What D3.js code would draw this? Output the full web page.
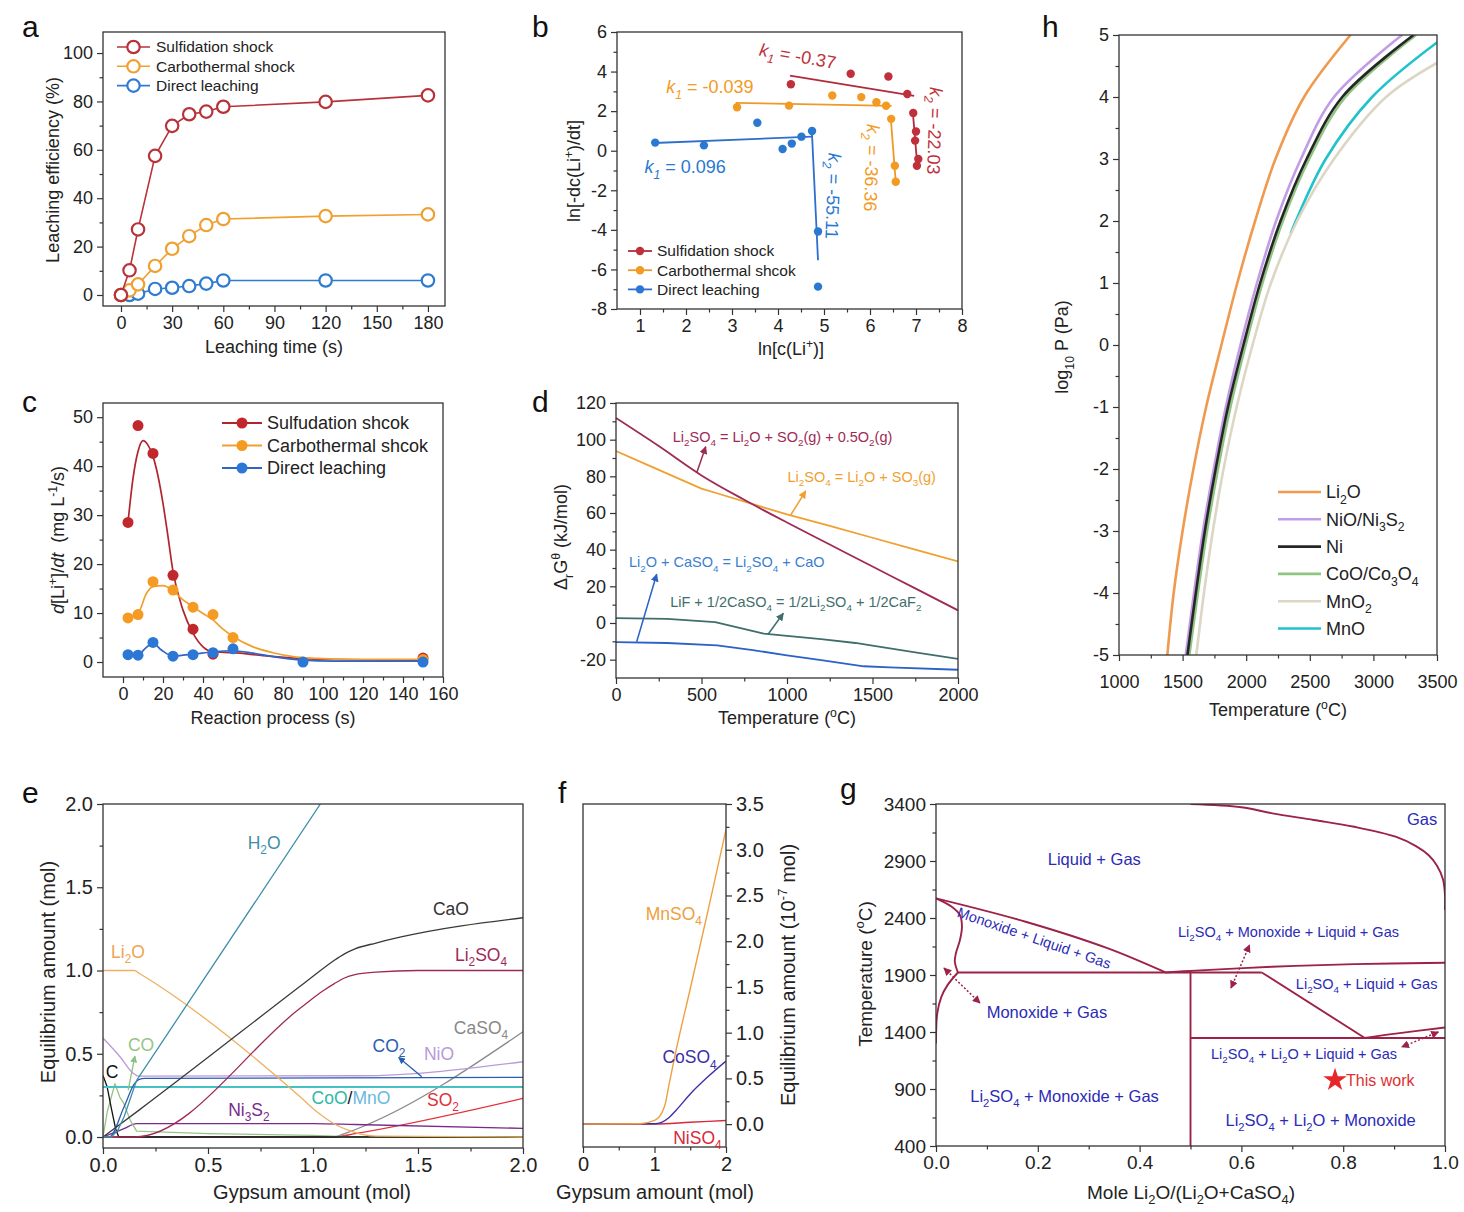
<!DOCTYPE html>
<html><head><meta charset="utf-8">
<script src="https://cdn.jsdelivr.net/npm/d3@7"></script>
<style>body{margin:0;background:#fff}svg{display:block}text{white-space:pre}</style>
</head><body>
<svg id="c" width="1464" height="1212"></svg>
<script>
// ---------------- DATA ----------------
// Panel a
const aTime = [0,5,10,20,30,40,50,60,120,180];
const aSulf = [0,10.2,27.1,57.5,69.9,74.7,75.8,77.8,79.8,82.5];
const aCarb = [0,1.9,4.4,12.0,19.1,24.3,28.9,31.4,32.6,33.3];
const aDirect = [0,0,0.55,2.5,3.0,3.7,4.7,6.0,6.0,6.0];
const aSeriesNames = ["Sulfidation shock","Carbothermal shock","Direct leaching"];

// Panel b
const bSulfX = [4.28,5.58,6.40,6.81,6.94,7.00,6.98,7.05,7.02];
const bSulfY = [3.36,3.89,3.75,2.87,1.91,0.97,0.51,-0.42,-0.76];
const bSulfFit1 = [[4.26,3.80],[6.96,2.77]];
const bSulfFit2 = [[6.93,1.98],[7.03,-0.80]];
const bCarbX = [3.11,4.24,5.18,5.81,6.14,6.35,6.46,6.54,6.56];
const bCarbY = [2.20,2.28,2.79,2.71,2.45,2.27,1.61,-0.76,-1.57];
const bCarbFit1 = [[3.08,2.42],[6.47,2.27]];
const bCarbFit2 = [[6.45,1.70],[6.56,-1.60]];
const bDirX = [1.33,2.39,3.55,4.10,4.30,4.51,4.74,4.87,4.87];
const bDirY = [0.41,0.27,1.41,0.09,0.36,0.71,1.00,-4.08,-6.87];
const bDirFit1 = [[1.31,0.39],[4.74,0.71]];
const bDirFit2 = [[4.74,0.80],[4.87,-5.54]];
const bSeriesNames = ["Sulfidation shock","Carbothermal shcok","Direct leaching"];

// Panel c
const cX = [2.5,7.5,15,25,35,45,55,90,150];
const cSulf = [28.5,48.3,42.6,17.7,6.7,1.6,null,null,0.8];
const cCarb = [9.0,9.7,16.4,14.7,11.2,9.7,5.0,null,0.5];
const cDirect = [1.5,1.4,4.0,1.2,1.5,1.9,2.7,0.0,0.0];
const cSulfFitX = [2.5,5,7.5,10,12.5,15,17.5,20,22.5,25,30,35,40,45,55,70,90,120,150];
const cSulfFitY = [28.5,37.5,43,45.2,44.3,42,38,32.4,25.6,18.5,10.6,5.9,3.1,2.1,1.9,1.3,0.7,0.45,0.4];
const cCarbFitX = [2.5,7.5,11.7,15,20,25,30,35,40,45,50,55,65,75,85,97,115,150];
const cCarbFitY = [9.0,9.9,14.0,15.4,15.6,14.6,12.7,11.3,9.9,8.6,6.7,5.2,3.1,1.9,1.1,0.75,0.55,0.55];
const cDirFitX = [2.5,7.5,10.9,15,19.2,25,30,35,45,55,65,75,90,105,150];
const cDirFitY = [1.5,1.4,2.7,3.8,2.45,1.2,1.4,1.6,2.1,2.3,1.8,1.1,0.4,0.2,0.2];
const cSeriesNames = ["Sulfudation shcok","Carbothermal shcok","Direct leaching"];

// Panel d
const dR1T = [0,250,500,750,1000,1250,1500,1750,2000];
const dR1V = [111.8,96.5,80.5,67.2,54.8,42.8,30.8,18.9,6.9];
const dR2T = [0,250,500,600,800,1000,1250,1500,1750,2000];
const dR2V = [93.8,83.5,73.3,70.5,64.8,59.2,53.0,46.5,40.0,33.6];
const dR3T = [0,300,591,800,1000,1200,1449,1600,2000];
const dR3V = [-10.4,-10.9,-12.2,-14.8,-17.6,-20.3,-23.6,-24.2,-25.5];
const dR4T = [0,300,580,864,1000,1200,1400,1500,1750,2000];
const dR4V = [2.7,2.2,0.5,-5.8,-7.0,-8.8,-10.9,-12.4,-16.0,-19.6];
const dLabels = ["Li{_2}SO{_4} = Li{_2}O + SO{_2}(g) + 0.5O{_2}(g)","Li{_2}SO{_4} = Li{_2}O + SO{_3}(g)","Li{_2}O + CaSO{_4} = Li{_2}SO{_4} + CaO","LiF + 1/2CaSO{_4} = 1/2Li{_2}SO{_4} + 1/2CaF{_2}"];

// Panel e
const eH2OX = [0,0.04,0.07,0.1,0.13,0.16,1.035];
const eH2OY = [0,0,0.04,0.12,0.23,0.34,2.0];
const eLi2OX = [0,0.15,0.17,0.94,1.02,1.1,1.18,1.3,2.0];
const eLi2OY = [1,1,0.985,0.24,0.15,0.08,0.035,0.005,0];
const eCaOX = [0,0.17,0.94,1.0,1.1,1.15,1.2,1.3,1.414,2.0];
const eCaOY = [0,0.16,0.907,0.965,1.06,1.1,1.13,1.165,1.2,1.317];
const eLi2SO4X = [0,0.15,0.94,1.05,1.1,1.15,1.2,1.3,1.5,2.0];
const eLi2SO4Y = [0,0,0.775,0.88,0.92,0.955,0.975,0.99,1.0,1.0];
const eCaSO4X = [0,1.1,1.15,1.25,2.0];
const eCaSO4Y = [0,0,0.02,0.07,0.632];
const eCO2X = [0,0.03,0.1,0.15,0.17,0.2,2.0];
const eCO2Y = [0,0,0.18,0.32,0.345,0.352,0.358];
const eNiOX = [0,0.081,0.144,0.17,1.22,2.0];
const eNiOY = [0.595,0.482,0.383,0.366,0.368,0.452];
const eCoOX = [0,2.0], eCoOY = [0.302,0.302];
const eMnOX = [0,2.0], eMnOY = [0.298,0.298];
const eCX = [0,0.02,0.04,0.06,0.075,2.0];
const eCY = [0.37,0.3,0.17,0.05,0,0];
const eCOX = [0,0.02,0.057,0.08,0.1,0.13,0.16,0.5,1.0,1.2,2.0];
const eCOY = [0,0.15,0.32,0.24,0.2,0.1,0.035,0.02,0.01,0.0,0.0];
const eSO2X = [0,1.1,1.2,2.0], eSO2Y = [0,0,0.02,0.232];
const eNi3S2X = [0,0.1,0.16,1.0,1.2,2.0], eNi3S2Y = [0,0.05,0.08,0.08,0.075,0.052];
const eOtherX = [0,2.0], eOtherY = [0.002,0.002];

// Panel f
const fMnX = [0,0.8,1.0,1.1,1.15,1.2,1.3,1.5,1.75,2.0];
const fMnY = [0,0.005,0.04,0.12,0.22,0.42,0.8,1.48,2.34,3.22];
const fCoX = [0,1.0,1.1,1.2,1.3,1.5,1.75,2.0];
const fCoY = [0,0.005,0.02,0.07,0.15,0.33,0.52,0.69];
const fNiX = [0,1.0,1.5,2.0], fNiY = [0,0.0,0.02,0.04];

// Panel g (phase boundaries)
const gGasX = [0.5,0.6,0.661,0.742,0.822,0.903,0.943,0.968,0.984,0.996,1.0,1.0];
const gGasY = [3400,3372,3318,3260,3200,3113,3030,2950,2860,2740,2600,2470];
const gUpLeftX = [0,0.176,0.338,0.451], gUpLeftY = [2572,2367,2133,1922];
const gInnerX = [0,0.031,0.047,0.051,0.047,0.039,0.037,0.043];
const gInnerY = [2572,2499,2425,2323,2206,2089,2016,1922];
const gLowLeftX = [0,0.0024,0.0105,0.0226,0.043], gLowLeftY = [1300,1562,1708,1811,1922];
const gEutX = [0.043,0.64], gEutY = [1922,1922];
const gUpRightX = [0.451,0.5,0.66,0.822,1.0], gUpRightY = [1922,1936,1972,1995,2007];
const gVertX = [0.5,0.5], gVertY = [400,1936];
const gDiagX = [0.64,0.8425], gDiagY = [1922,1348];
const gHorX = [0.5,1.0], gHorY = [1348,1348];
const gRightX = [0.8425,0.903,1.0], gRightY = [1348,1386,1439];
const gStar = [0.784,979];

// Panel h
const hLogP = [-5,-4,-3,-2,-1,0,1,2,3,4,5];
const hLi2O = [1380,1430,1500,1585,1685,1805,1930,2070,2230,2455,2820];
const hNiO  = [1525,1590,1660,1745,1840,1955,2085,2235,2430,2690,3225];
const hNi   = [1538,1604,1675,1760,1857,1978,2110,2270,2475,2755,3316];
const hCoO  = [1553,1620,1692,1778,1876,1996,2128,2288,2495,2780,3335];
const hMnO2P = [-5,-4,-3,-2,-1,0,1,2,3,4,4.55];
const hMnO2T = [1608,1668,1738,1822,1925,2050,2195,2400,2690,3100,3500];
const hMnOP = [1.8,2,3,4,4.88];
const hMnOT = [2350,2390,2625,2990,3500];
const hNames = ["Li{_2}O","NiO/Ni{_3}S{_2}","Ni","CoO/Co{_3}O{_4}","MnO{_2}","MnO"];

// ---------------- DRAWING ----------------
const svg = d3.select('#c');
const FONT = "Arial, 'Liberation Sans', Helvetica, sans-serif";
svg.attr('font-family', FONT);
const defs = svg.append('defs');
let clipN = 0;

function rich(t, str, fs){
  const re=/\{([_^*~])([^}]*)\}/g; let last=0,m,cur=0; const parts=[];
  while((m=re.exec(str))!==null){ if(m.index>last) parts.push(['n',str.slice(last,m.index)]); parts.push([m[1],m[2]]); last=re.lastIndex; }
  if(last<str.length) parts.push(['n',str.slice(last)]);
  for(const [k,s] of parts){
    let off=0,size=fs,it=false;
    if(k==='_'||k==='~'){off=fs*0.3;size=fs*0.68;}
    if(k==='^'){off=-fs*0.4;size=fs*0.68;}
    if(k==='*'||k==='~') it=true;
    const ts=t.append('tspan').attr('font-size',size).attr('dy',off-cur).text(s);
    if(it) ts.attr('font-style','italic');
    cur=off;
  }
}
function label(x,y,str,fs,o={}){
  const t=svg.append('text').attr('x',0).attr('y',fs*0.35).attr('font-size',fs)
    .attr('fill',o.fill||'#222').attr('text-anchor',o.anchor||'middle')
    .attr('transform',`translate(${x},${y}) rotate(${o.rotate||0})`);
  rich(t,str,fs);
  return t;
}
function marker(id,color,size){
  defs.append('marker').attr('id',id).attr('viewBox','0 0 10 10').attr('refX',9).attr('refY',5)
    .attr('markerWidth',size).attr('markerHeight',size).attr('markerUnits','userSpaceOnUse')
    .attr('orient','auto-start-reverse')
    .append('path').attr('d','M0,0 L10,5 L0,10 Z').attr('fill',color);
}
function panel(c){
  const x=d3.scaleLinear().domain(c.xd).range([c.x0,c.x1]);
  const y=d3.scaleLinear().domain(c.yd).range([c.y1,c.y0]);
  const id='clip'+(clipN++);
  defs.append('clipPath').attr('id',id).append('rect').attr('x',c.x0).attr('y',c.y0).attr('width',c.x1-c.x0).attr('height',c.y1-c.y0);
  const fs=c.fs||18;
  const style=g=>{g.attr('font-family',FONT).attr('font-size',fs);g.select('.domain').remove();
    g.selectAll('line').attr('stroke','#333').attr('stroke-width',1.2);
    g.selectAll('text').attr('font-size',fs).attr('fill','#222');};
  const xf=c.xf||(d=>String(d)), yf=c.yf||(d=>String(d));
  svg.append('g').attr('transform',`translate(0,${c.y1})`).call(d3.axisBottom(x).tickValues(c.xt).tickSize(6).tickPadding(c.xpad||4).tickFormat(xf)).call(style);
  svg.append('g').attr('transform',`translate(0,${c.y1})`).call(d3.axisBottom(x).tickValues(c.xm).tickSize(3.5).tickFormat('')).call(style);
  const yx=c.right?c.x1:c.x0;
  const mk=()=>c.right?d3.axisRight(y):d3.axisLeft(y);
  svg.append('g').attr('transform',`translate(${yx},0)`).call(mk().tickValues(c.yt).tickSize(6).tickPadding(4).tickFormat(yf)).call(style);
  svg.append('g').attr('transform',`translate(${yx},0)`).call(mk().tickValues(c.ym).tickSize(3.5).tickFormat('')).call(style);
  const g=svg.append('g').attr('clip-path',`url(#${id})`);
  const top=svg.append('g');
  svg.append('rect').attr('x',c.x0).attr('y',c.y0).attr('width',c.x1-c.x0).attr('height',c.y1-c.y0)
    .attr('fill','none').attr('stroke','#333').attr('stroke-width',1.3);
  return {x,y,g,top};
}
const zipXY=(xs,ys)=>xs.map((v,i)=>[v,ys[i]]).filter(d=>d[1]!==null);
function path(P,pts,color,w,curve,layer){
  return (layer||P.g).append('path').datum(pts).attr('fill','none').attr('stroke',color).attr('stroke-width',w)
    .attr('stroke-linejoin','round')
    .attr('d',d3.line().x(d=>P.x(d[0])).y(d=>P.y(d[1])).curve(curve||d3.curveLinear));
}
function arrow(P,from,to,color,id,w,dash,both){
  const l=P.top.append('line').attr('x1',P.x(from[0])).attr('y1',P.y(from[1])).attr('x2',P.x(to[0])).attr('y2',P.y(to[1]))
    .attr('stroke',color).attr('stroke-width',w).attr('marker-end',`url(#${id})`);
  if(dash) l.attr('stroke-dasharray',dash);
  if(both) l.attr('marker-start',`url(#${id})`);
}
// panel letters
[['a',22,37],['b',532,37],['c',22,412],['d',532,412],['h',1042,37],['e',22,803],['f',558,803],['g',840,799]]
  .forEach(([s,x,y])=>svg.append('text').attr('x',x).attr('y',y).attr('font-size',30).attr('fill','#111').text(s));

// ===== Panel a =====
{
  const A=panel({x0:103,x1:445,y0:32,y1:306,xd:[-10.55,190],yd:[-4.55,108.7],
    xt:[0,30,60,90,120,150,180],xm:[15,45,75,105,135,165],yt:[0,20,40,60,80,100],ym:[10,30,50,70,90],fs:18});
  const cols=['#b8323a','#f0a030','#2e7bd0'];
  const ser=[aSulf,aCarb,aDirect];
  [2,1,0].forEach(i=>{
    const pts=zipXY(aTime,ser[i]);
    path(A,pts,cols[i],1.6);
    A.g.selectAll(null).data(pts).enter().append('circle').attr('cx',d=>A.x(d[0])).attr('cy',d=>A.y(d[1]))
      .attr('r',6.2).attr('fill','#fff').attr('stroke',cols[i]).attr('stroke-width',2.2);
  });
  aSeriesNames.forEach((n,i)=>{
    const yy=47+i*19.3;
    svg.append('line').attr('x1',117).attr('x2',150).attr('y1',yy).attr('y2',yy).attr('stroke',cols[i]).attr('stroke-width',1.6);
    svg.append('circle').attr('cx',133.5).attr('cy',yy).attr('r',6.2).attr('fill','#fff').attr('stroke',cols[i]).attr('stroke-width',2.2);
    label(156,yy,n,15.5,{anchor:'start'});
  });
  label(274,347,'Leaching time (s)',18);
  label(53,170,'Leaching efficiency (%)',18,{rotate:-90});
}

// ===== Panel b =====
{
  const B=panel({x0:617,x1:962,y0:32,y1:309,xd:[0.5,8],yd:[-8,6],
    xt:[1,2,3,4,5,6,7,8],xm:[1.5,2.5,3.5,4.5,5.5,6.5,7.5],yt:[-8,-6,-4,-2,0,2,4,6],ym:[-7,-5,-3,-1,1,3,5],fs:18});
  const cols=['#c0303a','#f39a22','#2a78d0'];
  const lcols=['#b02c3c','#ee9a2a','#2f6fcc'];
  const sets=[[bSulfX,bSulfY,bSulfFit1,bSulfFit2],[bCarbX,bCarbY,bCarbFit1,bCarbFit2],[bDirX,bDirY,bDirFit1,bDirFit2]];
  sets.forEach((s,i)=>{
    path(B,s[2],lcols[i],1.8); path(B,s[3],lcols[i],1.8);
    B.g.selectAll(null).data(zipXY(s[0],s[1])).enter().append('circle').attr('cx',d=>B.x(d[0])).attr('cy',d=>B.y(d[1]))
      .attr('r',4.2).attr('fill',cols[i]);
  });
  bSeriesNames.forEach((n,i)=>{
    const yy=251+i*19.2;
    svg.append('line').attr('x1',628).attr('x2',652).attr('y1',yy).attr('y2',yy).attr('stroke',lcols[i]).attr('stroke-width',1.8);
    svg.append('circle').attr('cx',640).attr('cy',yy).attr('r',4.2).attr('fill',cols[i]);
    label(657,yy,n,15.5,{anchor:'start'});
  });
  const kl=[[4.43,4.79,'{*k}{~1} = -0.37',cols[0],10],[2.52,3.22,'{*k}{~1} = -0.039',cols[1],0],[1.98,-0.82,'{*k}{~1} = 0.096',cols[2],0],
            [7.41,1.0,'{*k}{~2} = -22.03',cols[0],92],[6.04,-0.87,'{*k}{~2} = -36.36',cols[1],92],[5.2,-2.29,'{*k}{~2} = -55.11',cols[2],92]];
  kl.forEach(k=>label(B.x(k[0]),B.y(k[1]),k[2],18,{fill:k[3],rotate:k[4]}));
  label(791,349,'ln[c(Li{^+})]',18);
  label(574,171,'ln[-dc(Li{^+})/dt]',18,{rotate:-90});
}

// ===== Panel c =====
{
  const C=panel({x0:103,x1:443,y0:403,y1:677,xd:[-10,160],yd:[-3.06,52.9],
    xt:[0,20,40,60,80,100,120,140,160],xm:[10,30,50,70,90,110,130,150],yt:[0,10,20,30,40,50],ym:[5,15,25,35,45],fs:18});
  const cols=['#c0282e','#f59a23','#2c77d6'];
  const lcols=['#b0262e','#f0a030','#3264c4'];
  const fits=[[cSulfFitX,cSulfFitY],[cCarbFitX,cCarbFitY],[cDirFitX,cDirFitY]];
  const pts=[cSulf,cCarb,cDirect];
  [0,1,2].forEach(i=>{
    path(C,zipXY(fits[i][0],fits[i][1]),lcols[i],1.7,d3.curveMonotoneX);
    C.g.selectAll(null).data(zipXY(cX,pts[i])).enter().append('circle').attr('cx',d=>C.x(d[0])).attr('cy',d=>C.y(d[1]))
      .attr('r',5.5).attr('fill',cols[i]);
  });
  cSeriesNames.forEach((n,i)=>{
    const yy=423+i*22.5;
    svg.append('line').attr('x1',222).attr('x2',262).attr('y1',yy).attr('y2',yy).attr('stroke',lcols[i]).attr('stroke-width',1.8);
    svg.append('circle').attr('cx',242).attr('cy',yy).attr('r',5.5).attr('fill',cols[i]);
    label(267,yy,n,18,{anchor:'start'});
  });
  label(273,718,'Reaction process (s)',18);
  label(58,540,'{*d}[Li{^+}]/{*dt}  (mg L{^-1}/s)',18,{rotate:-90});
}

// ===== Panel d =====
{
  const D=panel({x0:616,x1:958,y0:403,y1:678,xd:[0,2000],yd:[-30,120],
    xt:[0,500,1000,1500,2000],xm:[250,750,1250,1750],yt:[-20,0,20,40,60,80,100,120],ym:[-10,10,30,50,70,90,110],fs:18});
  const cols=['#9e2a55','#f0a030','#2a62c8','#3f6e6c'];
  path(D,zipXY(dR2T,dR2V),cols[1],1.8);
  path(D,zipXY(dR1T,dR1V),cols[0],1.8,d3.curveMonotoneX);
  path(D,zipXY(dR4T,dR4V),cols[3],1.8);
  path(D,zipXY(dR3T,dR3V),cols[2],1.8);
  cols.forEach((c,i)=>marker('ad'+i,c,8));
  arrow(D,[472,82.0],[524.6,96.2],cols[0],'ad0',1.5);
  arrow(D,[1021.7,58.9],[1109.4,72.0],cols[1],'ad1',1.5);
  arrow(D,[121,-10.2],[238,26.6],cols[2],'ad2',1.5);
  arrow(D,[890.7,-6.0],[978.4,5.3],cols[3],'ad3',1.5);
  const pos=[[973.7,101.6],[1436.8,79.8],[647.4,33.1],[1051.5,11.6]];
  const lc=[cols[0],cols[1],'#3a7fcf',cols[3]];
  dLabels.forEach((s,i)=>label(D.x(pos[i][0]),D.y(pos[i][1]),s,14.5,{fill:lc[i]}));
  label(787,718,'Temperature ({^o}C)',18);
  label(561,537,'Δ{_r}G{^θ} (kJ/mol)',18,{rotate:-90});
}

// ===== Panel h =====
{
  const H=panel({x0:1119,x1:1437,y0:35,y1:655,xd:[1000,3500],yd:[-5,5],
    xt:[1000,1500,2000,2500,3000,3500],xm:[1250,1750,2250,2750,3250],yt:[-5,-4,-3,-2,-1,0,1,2,3,4,5],
    ym:[-4.5,-3.5,-2.5,-1.5,-0.5,0.5,1.5,2.5,3.5,4.5],fs:18,xpad:14});
  const cols=['#ef9a4e','#c29ce6','#262626','#8fc483','#dcd6c4','#22c2cb'];
  const tp=(T,P)=>T.map((t,i)=>[t,P[i]]);
  const cr=d3.curveCatmullRom.alpha(0.5);
  path(H,tp(hLi2O,hLogP),cols[0],2.6,cr);
  path(H,tp(hMnOT,hMnOP),cols[5],2.6,cr);
  path(H,tp(hMnO2T,hMnO2P),cols[4],2.6,cr);
  path(H,tp(hCoO,hLogP),cols[3],2.6,cr);
  path(H,tp(hNiO,hLogP),cols[1],2.6,cr);
  path(H,tp(hNi,hLogP),cols[2],2.6,cr);
  hNames.forEach((n,i)=>{
    const yy=492+i*27.3;
    svg.append('line').attr('x1',1278).attr('x2',1321).attr('y1',yy).attr('y2',yy).attr('stroke',cols[i]).attr('stroke-width',2.6);
    label(1326,yy,n,18,{anchor:'start'});
  });
  label(1278,710,'Temperature ({^o}C)',18);
  label(1062,347,'log{_10} P (Pa)',18,{rotate:-90});
}

// ===== Panel e =====
{
  const E=panel({x0:103,x1:523,y0:804,y1:1148,xd:[0,2],yd:[-0.066,2],
    xt:[0,0.5,1,1.5,2],xm:[0.25,0.75,1.25,1.75],yt:[0,0.5,1,1.5,2],ym:[0.25,0.75,1.25,1.75],fs:20,
    xf:d3.format('.1f'),yf:d3.format('.1f')});
  const mx=d3.curveMonotoneX, lin=d3.curveLinear;
  const L=[[eOtherX,eOtherY,'#3f7a3a',lin],[eSO2X,eSO2Y,'#e0303a',mx],[eCaSO4X,eCaSO4Y,'#8a8a8a',mx],[eNi3S2X,eNi3S2Y,'#7a2a8a',mx],
    [eCOX,eCOY,'#96c486',lin],[eCX,eCY,'#111111',lin],[eMnOX,eMnOY,'#62b6de',lin],[eCoOX,eCoOY,'#3cc4b8',lin],[eNiOX,eNiOY,'#b99ad8',mx],
    [eCO2X,eCO2Y,'#2a5cb0',mx],[eLi2OX,eLi2OY,'#eeb060',mx],[eLi2SO4X,eLi2SO4Y,'#a02858',mx],[eCaOX,eCaOY,'#3a3a3a',mx],[eH2OX,eH2OY,'#3f8fa8',lin]];
  L.forEach(l=>path(E,zipXY(l[0],l[1]),l[2],1.3,l[3]));
  marker('ae0','#8cc07c',7); marker('ae1','#2a5cb0',7);
  arrow(E,[0.12,0.282],[0.152,0.486],'#8cc07c','ae0',1.3);
  arrow(E,[1.518,0.362],[1.408,0.478],'#2a5cb0','ae1',1.3);
  const lab=[[0.767,1.766,'H{_2}O','#3f8fa8'],[1.657,1.369,'CaO','#333'],[0.119,1.111,'Li{_2}O','#eea450'],
    [1.8,1.093,'Li{_2}SO{_4}','#a02858'],[1.8,0.655,'CaSO{_4}','#888'],[1.362,0.547,'CO{_2}','#2a5cb0'],
    [1.6,0.498,'NiO','#b99ad8'],[0.181,0.553,'CO','#96c486'],[0.043,0.39,'C','#111'],
    [1.619,0.222,'SO{_2}','#e0303a'],[0.695,0.162,'Ni{_3}S{_2}','#7a2a8a']];
  lab.forEach(l=>label(E.x(l[0]),E.y(l[1]),l[2],17.5,{fill:l[3]}));
  const t=svg.append('text').attr('x',E.x(1.181)).attr('y',E.y(0.234)+17.5*0.35).attr('font-size',17.5).attr('text-anchor','middle');
  t.append('tspan').attr('fill','#2fb8a8').text('CoO');
  t.append('tspan').attr('fill','#111').text('/');
  t.append('tspan').attr('fill','#6ab8dc').text('MnO');
  label(312,1192,'Gypsum amount (mol)',20);
  label(48,972,'Equilibrium amount (mol)',20,{rotate:-90});
}

// ===== Panel f =====
{
  const F=panel({x0:583,x1:726,y0:804,y1:1147,xd:[0,2],yd:[-0.25,3.5],
    xt:[0,1,2],xm:[0.5,1.5],yt:[0,0.5,1,1.5,2,2.5,3,3.5],ym:[0.25,0.75,1.25,1.75,2.25,2.75,3.25],fs:20,right:true,
    yf:d3.format('.1f')});
  const mx=d3.curveMonotoneX;
  path(F,zipXY(fNiX,fNiY),'#d8283a',1.4,mx);
  path(F,zipXY(fCoX,fCoY),'#3a30a8',1.4,mx);
  path(F,zipXY(fMnX,fMnY),'#eea040',1.4,mx);
  label(F.x(1.27),F.y(2.3),'MnSO{_4}',17.5,{fill:'#eea040'});
  label(F.x(1.49),F.y(0.73),'CoSO{_4}',17.5,{fill:'#3a30a8'});
  label(F.x(1.6),F.y(-0.15),'NiSO{_4}',17.5,{fill:'#d8283a'});
  label(655,1192,'Gypsum amount (mol)',20);
  label(788,975,'Equilibrium amount (10{^-7} mol)',20,{rotate:-90});
}

// ===== Panel g =====
{
  const G=panel({x0:936,x1:1445,y0:804,y1:1146,xd:[0,1],yd:[400,3400],
    xt:[0,0.2,0.4,0.6,0.8,1.0],xm:[0.1,0.3,0.5,0.7,0.9],yt:[400,900,1400,1900,2400,2900,3400],
    ym:[650,1150,1650,2150,2650,3150],fs:19,xf:d3.format('.1f')});
  const col='#9c2248';
  const cr=d3.curveCatmullRom.alpha(0.5);
  [[gGasX,gGasY,cr],[gUpLeftX,gUpLeftY,cr],[gInnerX,gInnerY,cr],[gLowLeftX,gLowLeftY,cr],[gEutX,gEutY],
   [gUpRightX,gUpRightY,cr],[gVertX,gVertY],[gDiagX,gDiagY],[gHorX,gHorY],[gRightX,gRightY,cr]]
   .forEach(l=>path(G,zipXY(l[0],l[1]),col,1.9,l[2]));
  marker('ag',col,8);
  arrow(G,[0.5796,1786],[0.616,2163],col,'ag',1.5,'2,2',true);
  arrow(G,[0.0157,1961],[0.0864,1654],col,'ag',1.5,'2,2',true);
  arrow(G,[0.987,1400],[0.915,1268],col,'ag',1.5,'2,2',true);
  const blue='#2b2bb5';
  const labs=[[0.955,3268,'Gas',16.5,0],[0.311,2917,'Liquid + Gas',16.5,0],[0.193,2225,'Monoxide + Liquid + Gas',14.5,19],
    [0.6925,2277,'Li{_2}SO{_4} + Monoxide + Liquid + Gas',14.5,0],[0.846,1821,'Li{_2}SO{_4} + Liquid + Gas',14.5,0],
    [0.218,1575,'Monoxide + Gas',16.5,0],[0.723,1207,'Li{_2}SO{_4} + Li{_2}O + Liquid + Gas',14.5,0],
    [0.2525,839,'Li{_2}SO{_4} + Monoxide + Gas',16.5,0],[0.7556,628,'Li{_2}SO{_4} + Li{_2}O + Monoxide',16.5,0]];
  labs.forEach(l=>label(G.x(l[0]),G.y(l[1]),l[2],l[3],{fill:blue,rotate:l[4]}));
  G.top.append('path').attr('d',d3.symbol(d3.symbolStar,170)()).attr('fill','#e8262a')
    .attr('transform',`translate(${G.x(gStar[0])},${G.y(gStar[1])})`);
  label(G.x(gStar[0])+11,G.y(gStar[1]),'This work',16,{fill:'#e03030',anchor:'start'});
  label(1191,1192,'Mole Li{_2}O/(Li{_2}O+CaSO{_4})',19);
  label(865,974,'Temperature ({^o}C)',19,{rotate:-90});
}
</script>
</body></html>
